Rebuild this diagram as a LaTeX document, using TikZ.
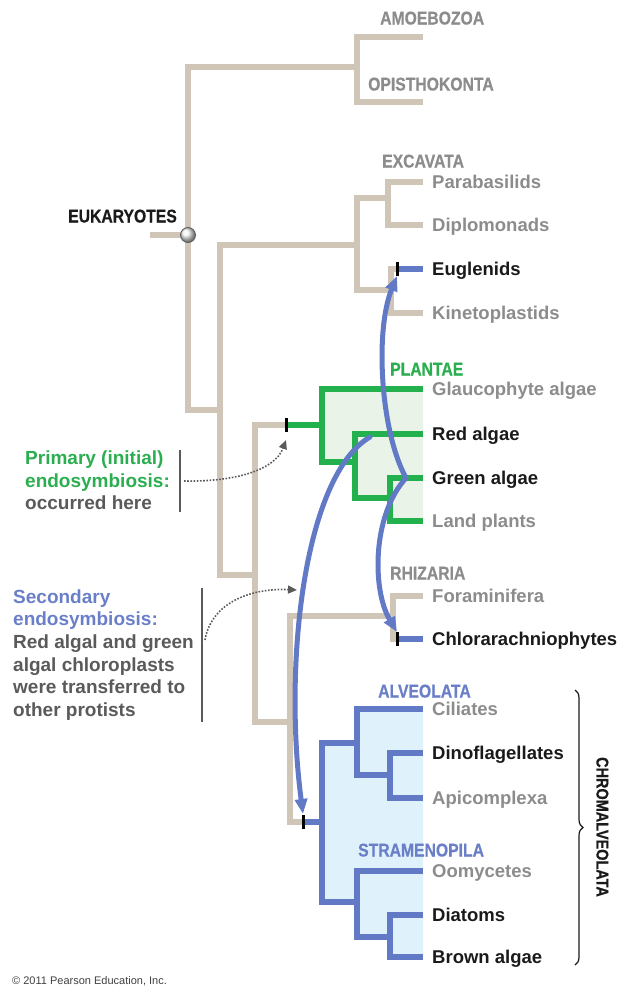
\documentclass[tikz,border=0pt]{standalone}
\usepackage{fontspec}
\setmainfont{Liberation Sans}
\newfontfamily\condfont[FakeStretch=0.85,FakeBold=0.6]{Liberation Sans Bold}
\usetikzlibrary{arrows.meta,decorations.pathreplacing,shapes.geometric}
\definecolor{tanc}{HTML}{CFC6B7}
\definecolor{greenc}{HTML}{22B14C}
\definecolor{bluec}{HTML}{6279C6}
\definecolor{greenfill}{HTML}{EAF3E7}
\definecolor{bluefill}{HTML}{DFF2FC}
\definecolor{labgray}{HTML}{8C8C8C}
\definecolor{labdark}{HTML}{1A1A1A}
\definecolor{notegray}{HTML}{5A5A5A}
\definecolor{gtext}{HTML}{2BAE50}
\definecolor{btext}{HTML}{6A7FC8}
\begin{document}
\begin{tikzpicture}[x=1pt,y=-1pt,
  br/.style={line width=5.5pt, line join=miter, line cap=butt},
  tanbr/.style={br, draw=tanc},
  grbr/.style={br, draw=greenc},
  blbr/.style={br, draw=bluec},
  tickmark/.style={line width=3pt, draw=black},
  leaf/.style={anchor=west, inner sep=0pt, text height=13pt, text depth=0pt, font=\bfseries\fontsize{18.5}{22}\selectfont},
  lg/.style={leaf, text=labgray},
  lk/.style={leaf, text=labdark},
  head/.style={anchor=west, inner sep=0pt, text height=13pt, text depth=0pt, font=\condfont\fontsize{18.5}{20}\selectfont},
  note/.style={anchor=west, inner sep=0pt, text height=13.6pt, text depth=0pt, font=\bfseries\fontsize{19}{22}\selectfont},
  barl/.style={line width=1.5pt, draw=notegray},
  dotarr/.style={line width=1.6pt, draw=notegray, dash pattern=on 1.6pt off 1.6pt, -{Triangle[length=9pt,width=8pt]}},
  bluearr/.style={line width=5pt, draw=bluec, line cap=round, -{Triangle[length=15pt,width=12pt]}},
]
\useasboundingbox (0,0) rectangle (633,988);

% clade fills
\fill[greenfill] (322,389) -- (423,389) -- (423,521) -- (390,521) -- (390,498) -- (355,498) -- (355,462) -- (322,462) -- cycle;
\fill[bluefill] (357,709) -- (423,709) -- (423,957) -- (390,957) -- (390,937) -- (357,937) -- (357,902) -- (322,902) -- (322,743) -- (357,743) -- cycle;

% leaf labels
\node[lg] (para) at (432,182) {Parabasilids};
\node[lg] (dipl) at (432,225) {Diplomonads};
\node[lk] (eugl) at (432,269) {Euglenids};
\node[lg] (kine) at (432,313) {Kinetoplastids};
\node[lg] (glau) at (432,389) {Glaucophyte algae};
\node[lk] (red)  at (432,434) {Red algae};
\node[lk] (gre)  at (432,478) {Green algae};
\node[lg] (land) at (432,521) {Land plants};
\node[lg] (fora) at (432,596) {Foraminifera};
\node[lk] (chlo) at (432,639) {Chlorarachniophytes};
\node[lg] (cili) at (432,709) {Ciliates};
\node[lk] (dino) at (432,753) {Dinoflagellates};
\node[lg] (apic) at (432,798) {Apicomplexa};
\node[lg] (oomy) at (432,871) {Oomycetes};
\node[lk] (diat) at (432,915) {Diatoms};
\node[lk] (brow) at (432,957) {Brown algae};

% leaf ends
\foreach \n in {para,dipl,eugl,kine,glau,red,gre,land,fora,chlo,cili,dino,apic,oomy,diat,brow}
  \coordinate (e\n) at ([xshift=-9pt]\n.west);
\coordinate (eAmo) at (423,37);
\coordinate (eOpi) at (423,102);

% internal nodes
\coordinate (nAO) at (357,67);
\coordinate (rootc) at (188,235);
\coordinate (stem) at (150,235);
\coordinate (nB) at (220,410);
\coordinate (nExc) at (357,245);
\coordinate (nC) at (255,575);
\coordinate (nPD) at (388,198);
\coordinate (nEK) at (391,290);
\coordinate (tEug) at (397,269);
\coordinate (tPl) at (286,425);
\coordinate (nPl) at (322,425);
\coordinate (nRG) at (355,462);
\coordinate (nGL) at (390,498);
\coordinate (nD) at (290,722);
\coordinate (nRh) at (393,616);
\coordinate (tChl) at (397,639);
\coordinate (tChr) at (303,822);
\coordinate (nChr) at (322,822);
\coordinate (nAlv) at (357,743);
\coordinate (nDA) at (390,775);
\coordinate (nStr) at (357,902);
\coordinate (nDB) at (390,937);

% tan branches
\draw[tanbr] (eAmo) -| (nAO) |- (eOpi);
\draw[tanbr] (nAO) -| (rootc) |- (nB);
\draw[tanbr] (stem) -- (rootc);
\draw[tanbr] (nExc) -| (nB) |- (nC);
\draw[tanbr] (nPD) -| (nExc) |- (nEK);
\draw[tanbr] (epara) -| (nPD) |- (edipl);
\draw[tanbr] (tEug) -| (nEK) |- (ekine);
\draw[tanbr] (tPl) -| (nC) |- (nD);
\draw[tanbr] (nRh) -| (nD) |- (tChr);
\draw[tanbr] (efora) -| (nRh) |- (tChl);

% green branches
\draw[grbr] (tPl) -- (nPl);
\draw[grbr] (eglau) -| (nPl) |- (nRG);
\draw[grbr] (ered) -| (nRG) |- (nGL);
\draw[grbr] (egre) -| (nGL) |- (eland);

% blue branches
\draw[blbr] (tEug) -- (eeugl);
\draw[blbr] (tChl) -- (echlo);
\draw[blbr] (tChr) -- (nChr);
\draw[blbr] (nAlv) -| (nChr) |- (nStr);
\draw[blbr] (ecili) -| (nAlv) |- (nDA);
\draw[blbr] (edino) -| (nDA) |- (eapic);
\draw[blbr] (eoomy) -| (nStr) |- (nDB);
\draw[blbr] (ediat) -| (nDB) |- (ebrow);

% root circle
\node[circle, draw=black!65, line width=0.8pt, minimum size=15pt, inner sep=0pt, shading=ball, ball color=black!5] (root) at (rootc) {};

% blue transfer arrows
\coordinate (aRed) at (370,437);
\coordinate (aGre) at (406,478);
\draw[bluearr] (aRed) .. controls (305,475) and (283,660) .. ([yshift=8pt]tChr);
\draw[bluearr] (aGre) .. controls (380,430) and (375,330) .. ([yshift=-7pt]tEug);
\draw[bluearr] (aGre) .. controls (372,515) and (372,590) .. ([yshift=7pt]tChl);

% ticks
\foreach \t in {tEug,tPl,tChl,tChr}
  \draw[tickmark] ([yshift=-7pt]\t) -- ([yshift=7pt]\t);

% headers
\node[head, text=labgray] (amoe) at (380,18) {AMOEBOZOA};
\node[head, text=labgray] (opis) at (368,84) {OPISTHOKONTA};
\node[head, text=labgray] (exca) at (382,161) {EXCAVATA};
\node[head, text=gtext] (plan) at (390,369) {PLANTAE};
\node[head, text=labgray] (rhiz) at (390,573) {RHIZARIA};
\node[head, text=btext] (alve) at (378,691) {ALVEOLATA};
\node[head, text=btext] (stra) at (358,850) {STRAMENOPILA};
\node[head, text=labdark] (euka) at (68,216) {EUKARYOTES};
\node[head, text=labdark, rotate=-90, anchor=center, font=\condfont\fontsize{17}{20}\selectfont] (chro) at (603,827) {CHROMALVEOLATA};

% brace
\coordinate (bTop) at (575,690);
\coordinate (bBot) at (575,965);
\draw[line width=1.2pt, draw=labdark, decorate, decoration={brace, amplitude=8pt}] (bTop) -- (bBot);

% notes
\node[note, text=gtext] (p1) at (25,458) {Primary (initial)};
\node[note, text=gtext] (p2) at (25,481) {endosymbiosis:};
\node[note, text=notegray] (p3) at (25,503) {occurred here};
\node[note, text=btext] (s1) at (13,597) {Secondary};
\node[note, text=btext] (s2) at (13,619) {endosymbiosis:};
\node[note, text=notegray] (s3) at (13,642) {Red algal and green};
\node[note, text=notegray] (s4) at (13,665) {algal chloroplasts};
\node[note, text=notegray] (s5) at (13,687) {were transferred to};
\node[note, text=notegray] (s6) at (13,710) {other protists};

% bars and dotted pointers
\coordinate (b1t) at (180,450);
\coordinate (b1b) at (180,512);
\coordinate (b2t) at (202,588);
\coordinate (b2b) at (202,722);
\draw[barl] (b1t) -- (b1b);
\draw[barl] (b2t) -- (b2b);
\coordinate (d1s) at (184,481);
\coordinate (d1e) at (286,440);
\coordinate (d2s) at (205,640);
\coordinate (d2e) at (297,590);
\draw[dotarr] (d1s) .. controls (235,482) and (275,470) .. (d1e);
\draw[dotarr] (d2s) .. controls (212,600) and (255,588) .. (d2e);

% copyright
\node[anchor=west, inner sep=0pt, text height=8pt, text depth=0pt, font=\fontsize{11}{13}\selectfont, text=black!75] (copy) at (12,980) {© 2011 Pearson Education, Inc.};
\end{tikzpicture}
\end{document}
